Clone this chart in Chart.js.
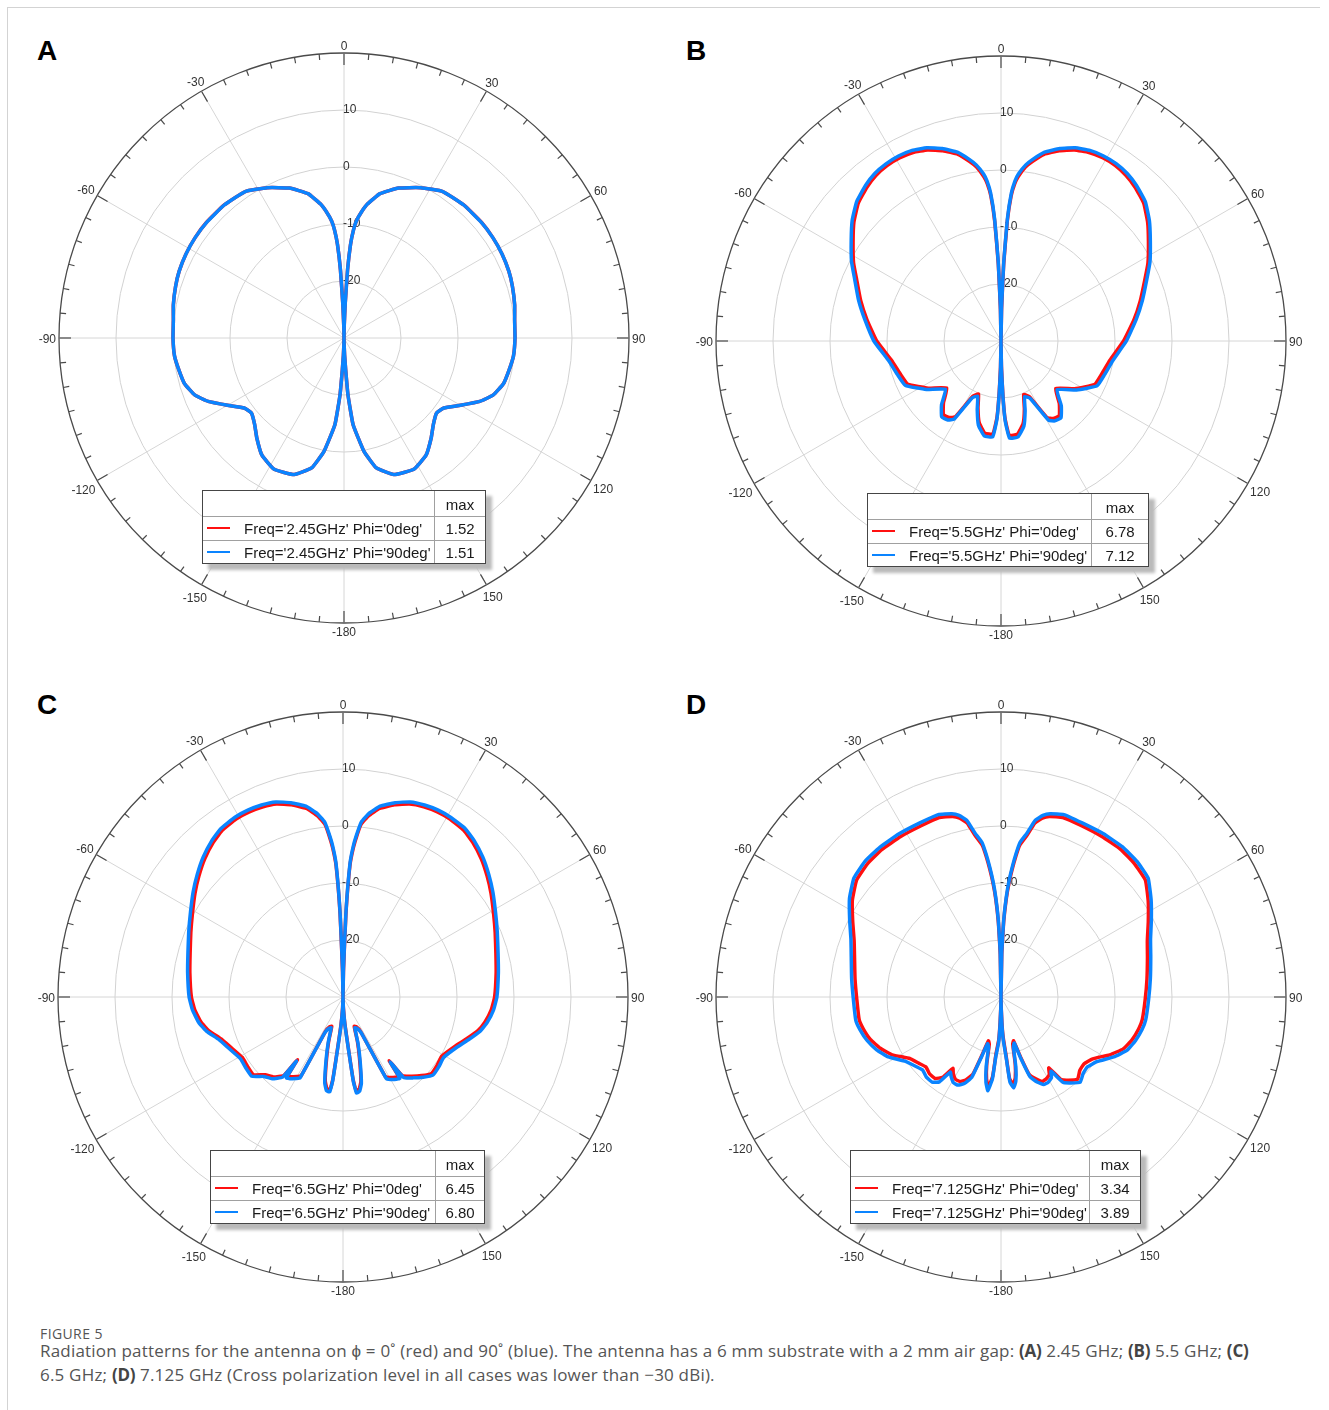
<!DOCTYPE html>
<html lang="en">
<head>
<meta charset="utf-8">
<title>Radiation patterns</title>
<script src="https://cdn.jsdelivr.net/npm/chart.js@4.4.1/dist/chart.umd.min.js"></script>
<style>
    html, body { margin: 0; padding: 0; background: #ffffff; }
    #page { position: relative; width: 1329px; height: 1410px; overflow: hidden; }
    .frame { position: absolute; left: 7px; top: 7px; right: 9px; bottom: -4px; border-top: 1px solid #d3d3d3; border-left: 1px solid #d3d3d3; }
    .panel-letter { position: absolute; font: bold 28px/1 'Liberation Sans', Arial, sans-serif; color: #000; }
    .plot { position: absolute; width: 660px; height: 660px; }
    .legend { position: absolute; height: 74px; box-sizing: border-box; background: #fff; border: 1px solid #454545;
              box-shadow: 6px 6px 3px #bababa; font: 15px 'Liberation Sans', Arial, sans-serif; color: #1a1a1a; }
    .legend .hline { position: absolute; left: 0; right: 0; height: 0; border-top: 1px solid #a0a0a0; }
    .legend .vline { position: absolute; top: 0; bottom: 0; width: 0; border-left: 1px solid #a0a0a0; }
    .legend .cell { position: absolute; height: 24px; line-height: 24px; white-space: nowrap; }
    .legend .swatch { position: absolute; left: 4px; width: 23px; height: 2px; }
    .fig-label { position: absolute; left: 40px; top: 1324px; font: 14px 'Open Sans', sans-serif; letter-spacing: 0.4px; color: #555; }
    .fig-text { position: absolute; left: 40px; top: 1339px; width: 1285px; font: 17px/24px 'Open Sans', sans-serif; letter-spacing: 0.2px; color: #555; }
    .fig-text b { color: #444; letter-spacing: -0.2px; }
</style>
</head>
<body>
<div id="page">
    <div class="frame"></div>
    <div class="fig-label">FIGURE 5</div>
    <div class="fig-text">Radiation patterns for the antenna on ϕ = 0˚ (red) and 90˚ (blue). The antenna has a 6 mm substrate with a 2 mm air gap: <b>(A)</b> 2.45 GHz; <b>(B)</b> 5.5 GHz; <b>(C)</b><br>6.5 GHz; <b>(D)</b> 7.125 GHz (Cross polarization level in all cases was lower than −30 dBi).</div>
</div>
<script>
// Gain in dB against theta (degrees, clockwise from broadside, -180..180)
const anglesA = [-179,-178,-177,-176,-174,-170,-166,-160,-152,-145,-139,-134,-129,-125,-120,-115,-111,-106,-101,-96,-90,-84,-79,
    -73,-68,-62,-56,-50,-42,-34,-27,-20,-14,-10,-8,-6,-5,-4,-3,-2,-1,0,
    1,2,3,4,5,6,8,10,14,20,27,34,42,50,56,62,68,73,79,84,90,96,101,106,111,115,120,125,129,134,139,145,152,160,166,170,174,176,177,178,179,180];
const redA = [-29,-27,-24.5,-20,-14.7,-9.8,-6.5,-4.5,-3.9,-4.9,-6.7,-8.2,-9.1,-8.6,-6.4,-3.7,-2.0,-0.9,-0.5,-0.1,0.0,0.1,0.5,
    0.9,1.2,1.4,1.5,1.52,1.4,1.0,-0.4,-2.0,-3.9,-6.1,-7.6,-9.4,-11,-13.5,-18,-24,-28,-30,
    -28,-24,-18,-13.5,-11,-9.4,-7.6,-6.1,-3.9,-2.0,-0.4,1.0,1.4,1.52,1.5,1.4,1.2,0.9,0.5,0.1,0.0,-0.1,-0.5,-0.9,-2.0,-3.7,-6.4,-8.6,-9.1,-8.2,-6.7,-4.9,-3.9,-4.5,-6.5,-9.8,-14.7,-20,-24.5,-27,-29,-30];
const blueA = [-29,-27,-24.5,-20,-14.7,-9.8,-6.5,-4.5,-3.9,-4.9,-6.7,-8.2,-9.1,-8.6,-6.4,-3.7,-2.0,-0.9,-0.5,-0.1,0.0,0.1,0.5,
    0.9,1.2,1.4,1.5,1.51,1.4,1.0,-0.4,-2.0,-3.9,-6.1,-7.6,-9.4,-11,-13.5,-18,-24,-28,-30,
    -28,-24,-18,-13.5,-11,-9.4,-7.6,-6.1,-3.9,-2.0,-0.4,1.0,1.4,1.51,1.5,1.4,1.2,0.9,0.5,0.1,0.0,-0.1,-0.5,-0.9,-2.0,-3.7,-6.4,-8.6,-9.1,-8.2,-6.7,-4.9,-3.9,-4.5,-6.5,-9.8,-14.7,-20,-24.5,-27,-29,-30];

const anglesB = [-179,-178,-177,-175,-170,-165,-161,-157,-153,-149,-146,-142,-137,-131,-123,-115,-108,-100,-90,-81,
    -74,-67,-62,-56,-51,-46,-41,-37,-33,-29,-25,-21,-17,-13,-10,-8,-6,-5,-4,-3,-2,-1,0,
    1,2,3,4,5,6,8,10,13,17,21,25,29,33,37,41,46,51,56,62,67,74,81,90,100,108,115,123,131,137,142,146,149,153,157,161,165,170,175,177,178,179,180];
const redB = [-25.5,-21,-16.6,-13.6,-13.6,-15.2,-17.6,-19.9,-19.1,-14.5,-13.8,-13.6,-15.2,-17.4,-14.8,-12.0,-11.4,-10.5,-8.2,-6.2,
    -4.4,-2.5,-0.7,1.3,3.2,4.8,5.8,6.4,6.7,6.72,6.5,5.9,4.9,3.6,2.0,0.8,-1.0,-2.3,-4.5,-9,-16.5,-24.5,-30,
    -24.5,-16.5,-9,-4.5,-2.3,-1.0,0.8,2.0,3.6,4.9,5.9,6.5,6.78,6.75,6.4,5.8,4.8,3.1,1.2,-0.8,-2.6,-4.6,-6.4,-8.5,-10.6,-11.4,-11.9,-14.6,-17.3,-15,
    -13.4,-13.6,-14.3,-19.0,-19.8,-17.4,-15,-13.4,-13.4,-16.4,-20.6,-25.5,-30];
const blueB = [-25,-20.5,-16.2,-13.1,-13.1,-14.7,-17.2,-19.5,-18.8,-14.0,-13.3,-13.1,-14.7,-17.1,-14.4,-11.5,-10.9,-10.0,-7.7,-5.8,
    -4.0,-2.1,-0.3,1.7,3.6,5.2,6.2,6.8,7.05,7.1,6.9,6.3,5.3,4.0,2.4,1.2,-0.5,-1.8,-4,-8.5,-16,-24,-30,
    -24,-16,-8.5,-4,-1.8,-0.5,1.2,2.4,4.0,5.3,6.3,6.9,7.12,7.1,6.8,6.2,5.2,3.5,1.6,-0.4,-2.2,-4.2,-6.0,-8.0,-10.1,-10.9,-11.4,-14.2,-17.0,-14.5,
    -12.9,-13.1,-13.8,-18.7,-19.4,-17,-14.5,-12.9,-12.9,-16,-20.2,-25,-30];

const anglesC = [-178,-176,-174,-173,-172,-170,-168,-165,-162,-159,-156,-153,-152,-150,-147,-145,-144,-143,-139,-135,
    -131,-126,-121,-114,-109,-104,-100,-95,-90,-81,-74,-67,-61,-55,-50,-45,-40,-36,-31,-27,-23,-19,-15,-11,-8,-6,-5,-4,-3,-2,-1,0,
    1,2,3,4,5,6,8,11,15,19,23,27,31,36,40,45,50,55,61,67,74,81,90,95,100,104,109,114,121,126,
    131,135,139,143,144,145,147,150,152,153,156,159,162,165,168,170,172,173,174,176,178,180];
const redC = [-28.2,-25.3,-20.9,-15.6,-13.6,-13.7,-15.0,-18.9,-21.9,-24.5,-24.3,-23.3,-14.3,-13.9,-13.3,-13.1,-16.4,-12.8,-11.4,-10.7,
    -9.2,-9.3,-9.4,-8.4,-7.4,-5.7,-4.7,-3.9,-3.4,-2.8,-2.1,-1.0,0.2,1.7,3.0,4.3,5.4,6.1,6.42,6.4,6.2,5.8,4.9,3.7,2.1,0.5,-1.4,-3.7,-7,-15.5,-25.5,-30,
    -25.5,-15.5,-7,-3.7,-1.4,0.5,2.1,3.7,4.9,5.8,6.25,6.45,6.42,6.1,5.4,4.3,3.0,1.7,0.2,-1.0,-2.1,-2.8,-3.4,-3.9,-4.7,-5.6,-7.2,-8.6,-9.8,-9.6,
    -9.5,-10.5,-11.6,-12.7,-16.2,-13.0,-13.2,-13.7,-14.2,-23.3,-24.3,-24.5,-21.8,-18.8,-14.9,-13.6,-13.4,-15.4,-20.9,-25.3,-28.2,-30];
const blueC = [-28,-25,-20.5,-15.2,-13.2,-13.3,-14.6,-18.5,-21.6,-24.2,-24,-23,-13.9,-13.5,-12.9,-12.7,-16.1,-12.4,-11.0,-10.3,
    -8.8,-8.9,-9.0,-8.0,-7.0,-5.3,-4.3,-3.5,-3.0,-2.4,-1.7,-0.6,0.6,2.1,3.4,4.7,5.8,6.5,6.8,6.78,6.6,6.2,5.3,4.1,2.5,0.9,-1.0,-3.2,-6.5,-15,-25,-30,
    -25,-15,-6.5,-3.2,-1.0,0.9,2.5,4.1,5.3,6.2,6.6,6.8,6.75,6.5,5.8,4.7,3.4,2.1,0.6,-0.6,-1.7,-2.4,-3.0,-3.5,-4.3,-5.2,-6.8,-8.2,-9.4,-9.2,
    -9.1,-10.1,-11.2,-12.3,-15.9,-12.6,-12.8,-13.3,-13.8,-23,-24,-24.2,-21.5,-18.4,-14.5,-13.2,-13.0,-15,-20.5,-25,-28,-30];

const anglesD = [-179,-178,-177,-175,-174,-172,-170,-168,-166,-164,-162,-160,-157,-154,-151,-148,-146,-144,-141,-137,
    -133,-129,-124,-118,-113,-108,-103,-99,-91,-83,-75,-69,-63,-57,-51,-45,-39,-32,-25,-19,-15,-13,-11,-9,-7,-6,-5,-4,-3,-2,-1,0,
    1,2,3,4,5,6,7,9,11,13,15,19,25,32,39,45,51,57,63,69,75,83,91,99,103,108,113,118,124,129,
    133,137,141,144,146,148,151,154,157,160,162,164,166,168,170,172,174,175,177,178,179,180];
const redD = [-28.3,-25.5,-22.5,-20,-16,-14,-15.4,-18,-21.5,-22,-19.5,-15.6,-14.2,-13.5,-13.5,-14.2,-14.9,-12.6,-11.6,-11.6,
    -12,-11.5,-10.7,-8.4,-7,-5.9,-5.2,-4.8,-4.7,-4.2,-3.4,-2.4,-0.8,1.1,2.6,3.1,3.25,3.2,3.15,3.3,2.8,2.2,1.1,-1.4,-3.2,-5.2,-7.5,-10,-13,-17,-22.5,-30,
    -22.5,-17,-13,-10,-7.5,-5.2,-3.2,-1.4,1.1,2.2,2.8,3.3,3.2,3.25,3.34,3.1,2.6,0.8,-1.0,-2.5,-3.4,-4.2,-4.7,-4.9,-5.2,-5.8,-6.7,-8.4,-10.6,-11.3,
    -11.1,-10.3,-11.2,-12.1,-15,-14,-13.6,-13.5,-14.4,-15.6,-19,-22,-21.5,-18,-15.6,-14.5,-15.6,-19.5,-23,-25.5,-28.3,-30];
const blueD = [-28,-25,-22,-19.5,-15.5,-13.4,-14.8,-17.5,-21,-21.5,-19,-15,-13.5,-12.8,-12.8,-13.5,-14.1,-11.6,-10.8,-10.8,
    -11.2,-10.7,-9.8,-7.6,-6.3,-5.3,-4.6,-4.2,-4.1,-3.6,-2.8,-1.8,-0.2,1.7,3.2,3.7,3.8,3.75,3.7,3.85,3.3,2.7,1.6,-0.9,-2.7,-4.7,-7,-9.5,-12.5,-16.5,-22,-30,
    -22,-16.5,-12.5,-9.5,-7,-4.7,-2.7,-0.9,1.6,2.7,3.3,3.85,3.7,3.8,3.89,3.7,3.2,1.4,-0.4,-1.9,-2.8,-3.6,-4.1,-4.3,-4.6,-5.2,-6.0,-7.6,-9.7,-10.5,
    -10.3,-9.6,-10.6,-11.5,-14.3,-13.3,-12.9,-12.9,-13.8,-15.1,-18.5,-21.6,-21,-17.5,-15,-13.9,-15,-19,-22.5,-25,-28,-30];

const angleTicks = [0, 30, 60, 90, 120, 150, 180, 210, 240, 270, 300, 330];
const ringTicks = [10, 0, -10, -20];

const RED = '#ff1010';
const BLUE = '#0a84ff';

const panels = [
    { letter: 'A', cx: 344, cy: 338, freq: '2.45GHz', angles: anglesA, red: redA, blue: blueA,
      legend: { left: 202, top: 490, width: 284, col: 232 } },
    { letter: 'B', cx: 1001, cy: 341, freq: '5.5GHz', angles: anglesB, red: redB, blue: blueB,
      legend: { left: 867, top: 493, width: 282, col: 224 } },
    { letter: 'C', cx: 343, cy: 997, freq: '6.5GHz', angles: anglesC, red: redC, blue: blueC,
      legend: { left: 210, top: 1150, width: 275, col: 225 } },
    { letter: 'D', cx: 1001, cy: 997, freq: '7.125GHz', angles: anglesD, red: redD, blue: blueD,
      legend: { left: 850, top: 1150, width: 291, col: 239 } },
];

Chart.defaults.font.family = "'Liberation Sans', Arial, sans-serif";

// one radar label per degree, values placed at their own angle and gaps spanned
const degreeLabels = Array.from({ length: 360 }, (_, i) => String(i));

const toRing = (angles, values) => {
    const ring = new Array(360).fill(null);
    angles.forEach((a, i) => {
        ring[(a + 360) % 360] = values[i];
    });
    return ring;
};

const polarFrame = {
    id: 'polarFrame',
    beforeDatasetsDraw(chart) {
        const scale = chart.scales.r;
        const ctx = chart.ctx;
        const R = scale.drawingArea;
        ctx.save();

        // degree ticks on the rim, pointing inwards
        ctx.strokeStyle = '#4a4a4a';
        ctx.lineWidth = 1.2;
        for (let deg = 0; deg < 360; deg += 5) {
            const len = deg % 30 === 0 ? 12 : 6;
            const outer = scale.getPointPosition(deg, R);
            const inner = scale.getPointPosition(deg, R - len);
            ctx.beginPath();
            ctx.moveTo(outer.x, outer.y);
            ctx.lineTo(inner.x, inner.y);
            ctx.stroke();
        }

        // angle labels outside the rim
        ctx.fillStyle = '#333';
        ctx.font = "12px 'Liberation Sans', Arial, sans-serif";
        ctx.textAlign = 'center';
        ctx.textBaseline = 'middle';
        angleTicks.forEach((deg) => {
            const text = String(deg >= 180 ? deg - 360 : deg);
            const w = ctx.measureText(text).width;
            const a = scale.getPointPosition(deg, R).angle;
            const gap = 3 + Math.abs(Math.cos(a)) * w / 2 + Math.abs(Math.sin(a)) * 5;
            const p = scale.getPointPosition(deg, R + gap);
            ctx.fillText(text, p.x, p.y + 2);
        });

        // ring values along the 0 degree axis
        ctx.textAlign = 'left';
        ringTicks.forEach((v) => {
            const y = scale.yCenter - scale.getDistanceFromCenterForValue(v);
            ctx.fillText(String(v), scale.xCenter - 1, y);
        });
        ctx.restore();
    },
};

const page = document.getElementById('page');

const buildLegend = (panel, rows) => {
    const { left, top, width, col } = panel.legend;
    const box = document.createElement('div');
    box.className = 'legend';
    box.style.left = `${left}px`;
    box.style.top = `${top}px`;
    box.style.width = `${width}px`;

    const add = (cls, css, text) => {
        const el = document.createElement('div');
        el.className = cls;
        Object.assign(el.style, css);
        if (text !== undefined) el.textContent = text;
        box.appendChild(el);
        return el;
    };

    add('hline', { top: '25px' });
    add('hline', { top: '49px' });
    add('vline', { left: `${col - 1}px` });
    add('cell', { left: `${col}px`, width: `${width - col - 2}px`, top: '2px', textAlign: 'center' }, 'max');

    rows.forEach((row, i) => {
        const y = 26 + i * 24;
        add('swatch', { top: `${y + 10}px`, background: row.color });
        add('cell', { left: '41px', top: `${y}px` }, row.label);
        add('cell', { left: `${col}px`, width: `${width - col - 2}px`, top: `${y}px`, textAlign: 'center' },
            Math.max(...row.values).toFixed(2));
    });

    page.appendChild(box);
};

panels.forEach((panel) => {
    const letter = document.createElement('div');
    letter.className = 'panel-letter';
    letter.textContent = panel.letter;
    letter.style.left = `${panel.cx < 600 ? 37 : 686}px`;
    letter.style.top = `${panel.cy < 600 ? 37 : 691}px`;
    page.appendChild(letter);

    const holder = document.createElement('div');
    holder.className = 'plot';
    holder.style.left = `${panel.cx - 330}px`;
    holder.style.top = `${panel.cy - 320}px`;
    const canvas = document.createElement('canvas');
    canvas.width = 660;
    canvas.height = 660;
    holder.appendChild(canvas);
    page.appendChild(holder);

    const rows = [
        { color: RED, label: `Freq='${panel.freq}' Phi='0deg'`, values: panel.red },
        { color: BLUE, label: `Freq='${panel.freq}' Phi='90deg'`, values: panel.blue },
    ];

    new Chart(canvas, {
        type: 'radar',
        data: {
            labels: degreeLabels,
            datasets: [
                {
                    label: rows[0].label,
                    data: toRing(panel.angles, panel.red),
                    borderColor: RED,
                    order: 1,
                },
                {
                    label: rows[1].label,
                    data: toRing(panel.angles, panel.blue),
                    borderColor: BLUE,
                    order: 0,
                },
            ],
        },
        options: {
            responsive: false,
            animation: false,
            events: [],
            layout: { padding: { left: 45, right: 45, top: 35, bottom: 55 } },
            elements: {
                point: { radius: 0, hitRadius: 0 },
                line: { tension: 0.12, fill: false, borderWidth: 3.5, borderJoinStyle: 'round', borderCapStyle: 'round', spanGaps: true },
            },
            datasets: { radar: { spanGaps: true, fill: false } },
            plugins: { legend: { display: false }, tooltip: { enabled: false } },
            scales: {
                r: {
                    min: -30,
                    max: 20,
                    startAngle: 0,
                    ticks: { stepSize: 10, display: false },
                    pointLabels: { display: false },
                    grid: {
                        circular: true,
                        color: (c) => (c.tick && c.tick.value === 20 ? '#4a4a4a' : '#d2d2d2'),
                        lineWidth: (c) => (c.tick && c.tick.value === 20 ? 1.3 : 1),
                    },
                    angleLines: {
                        color: '#d6d6d6',
                        lineWidth: (c) => (c.index % 30 === 0 ? 1 : 0),
                    },
                },
            },
        },
        plugins: [polarFrame],
    });

    buildLegend(panel, rows);
});
</script>
</body>
</html>
